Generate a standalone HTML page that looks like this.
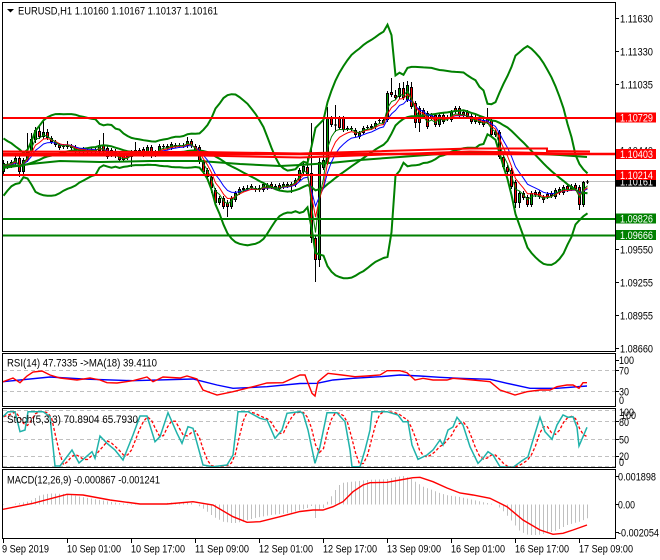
<!DOCTYPE html>
<html><head><meta charset="utf-8">
<style>
html,body{margin:0;padding:0;background:#fff;}
svg{display:block;}
text{font-family:"Liberation Sans",sans-serif;font-size:11px;fill:#000;}
.w{fill:#fff;}
</style></head>
<body>
<svg id="s" width="660" height="560" xmlns="http://www.w3.org/2000/svg">
<defs>
<clipPath id="cm"><rect x="3" y="3" width="612" height="348"/></clipPath>
<clipPath id="cr"><rect x="3" y="354" width="612" height="52"/></clipPath>
<clipPath id="cs"><rect x="3" y="409" width="612" height="58"/></clipPath>
<clipPath id="cd"><rect x="3" y="470" width="612" height="68"/></clipPath>
</defs>
<rect width="660" height="560" fill="#fff"/>

<!-- main panel -->
<g clip-path="url(#cm)">
  <line x1="3" y1="181.5" x2="615" y2="181.5" stroke="#c0c0c0" stroke-width="1"/>
  <g id="cand"></g>
  <polyline fill="none" stroke="#008000" stroke-width="2" points="3,168 30,164 60,161 100,162 150,161 200,161 240,164 280,166 300,165 330,163 360,160 400,157 440,154 470,152 520,153 560,155 587,157"/>
  <g id="ind"></g>
  <line x1="3" y1="118" x2="615" y2="118" stroke="#ff0000" stroke-width="2"/>
  <line x1="3" y1="175" x2="615" y2="175" stroke="#ff0000" stroke-width="2"/>
  <line x1="3" y1="154" x2="615" y2="154" stroke="#ff0000" stroke-width="2.5"/>
  <polyline fill="none" stroke="#ff0000" stroke-width="2" points="3,151.5 200,152 300,153.5 470,148.5 547,148.5 547,151 590,151.5"/>
  <polyline fill="none" stroke="#ff0000" stroke-width="2" points="3,155.5 200,155.5 300,157.5 470,151.5 545,153 590,154"/>
  <line x1="3" y1="219" x2="615" y2="219" stroke="#008000" stroke-width="2"/>
  <line x1="3" y1="235.5" x2="615" y2="235.5" stroke="#008000" stroke-width="2"/>
</g>

<!-- RSI panel -->
<g clip-path="url(#cr)">
  <line x1="3" y1="370.5" x2="615" y2="370.5" stroke="#c0c0c0" stroke-dasharray="4,3"/>
  <line x1="3" y1="391.5" x2="615" y2="391.5" stroke="#c0c0c0" stroke-dasharray="4,3"/>
  <polyline id="rsiB" fill="none" stroke="#0000ff" stroke-width="1.4" points="3,381.7 50,377 83,379 133,380.7 193,379 217,385 233,388.3 267,386.7 300,383.5 317,383.3 333,380 353,378.3 380,376.7 400,375 420,376 440,377.3 460,378.3 490,379.3 507,383.3 530,388.3 557,388.3 587,386"/>
  <polyline fill="none" stroke="#ff0000" stroke-width="1.4" points="3,381.7 13,378 20,382.7 27,376 33,372 42,371 50,375 60,378 77,380 90,378 100,380 107,382.7 117,383 133,380.7 147,377 153,381.7 163,377 180,378 187,376 197,379 203,390 217,395 233,391.7 253,386.7 267,383 283,382.7 300,375 305,375 308,383 312,393.3 315,396 318,381.7 322,378.3 328,373.3 342,375 355,376.7 367,376 380,375 387,370.7 400,370.7 407,372.7 415,380 423,378.3 433,380 447,380 453,378.3 473,380 490,381.7 500,390 515,395 527,391.7 540,390 550,390 557,386.7 567,385 573,385 579,388.3 583,382.7 587,382.7"/>
</g>

<!-- Stoch panel -->
<g clip-path="url(#cs)">
  <line x1="3" y1="410.5" x2="615" y2="410.5" stroke="#c0c0c0" stroke-dasharray="4,3"/>
  <line x1="3" y1="421.5" x2="615" y2="421.5" stroke="#c0c0c0" stroke-dasharray="4,3"/>
  <line x1="3" y1="439.5" x2="615" y2="439.5" stroke="#c0c0c0" stroke-dasharray="4,3"/>
  <line x1="3" y1="456.5" x2="615" y2="456.5" stroke="#c0c0c0" stroke-dasharray="4,3"/>
  <line x1="3" y1="466.5" x2="615" y2="466.5" stroke="#c0c0c0" stroke-dasharray="4,3"/>
  <g id="stoch"></g>
</g>

<!-- MACD panel -->
<g clip-path="url(#cd)">
  <g id="hist"></g>
  <polyline fill="none" stroke="#ff0000" stroke-width="1.4" points="3,509.3 33,503.3 67,494.3 83,495 110,500 140,504 167,504 193,501.7 213,505 233,516.7 247,522.3 260,521.7 280,516.7 300,511.5 313,510 323,510 333,506.7 343,501.7 353,491.7 363,485 370,482.7 387,482.3 400,480 413,477.7 420,477.3 433,481.7 447,488 460,493 473,495 490,498.3 507,506.7 523,520 540,530 553,534.3 563,533.3 573,530 587,525"/>
</g>

<!-- panel borders -->
<rect x="2.5" y="2.5" width="613" height="349" fill="none" stroke="#000"/>
<rect x="2.5" y="353.5" width="613" height="53" fill="none" stroke="#000"/>
<rect x="2.5" y="408.5" width="613" height="59" fill="none" stroke="#000"/>
<rect x="2.5" y="469.5" width="613" height="69" fill="none" stroke="#000"/>

<!-- header texts -->
<polygon points="7,9 14,9 10.5,12.5" fill="#000"/>
<text x="18" y="14.5" textLength="200" lengthAdjust="spacingAndGlyphs">EURUSD,H1  1.10160 1.10167 1.10137 1.10161</text>
<text x="7" y="366.5" textLength="150" lengthAdjust="spacingAndGlyphs">RSI(14) 47.7335  -&gt;MA(18) 39.4110</text>
<text x="7" y="423" textLength="131" lengthAdjust="spacingAndGlyphs">Stoch(5,3,3) 70.8904 65.7930</text>
<text x="7" y="483.5" textLength="153" lengthAdjust="spacingAndGlyphs">MACD(12,26,9) -0.000867 -0.001241</text>

<!-- price axis -->
<g stroke="#000">
  <line x1="615" y1="18.5" x2="619" y2="18.5"/>
  <line x1="615" y1="51.5" x2="619" y2="51.5"/>
  <line x1="615" y1="84.5" x2="619" y2="84.5"/>
  <line x1="615" y1="249.5" x2="619" y2="249.5"/>
  <line x1="615" y1="282.5" x2="619" y2="282.5"/>
  <line x1="615" y1="315.5" x2="619" y2="315.5"/>
  <line x1="615" y1="348.5" x2="619" y2="348.5"/>
  <line x1="615" y1="360.5" x2="619" y2="360.5"/>
  <line x1="615" y1="370.5" x2="619" y2="370.5"/>
  <line x1="615" y1="391.5" x2="619" y2="391.5"/>
  <line x1="615" y1="421.5" x2="619" y2="421.5"/>
  <line x1="615" y1="439.5" x2="619" y2="439.5"/>
  <line x1="615" y1="456.5" x2="619" y2="456.5"/>
  <line x1="615" y1="476.5" x2="619" y2="476.5"/>
  <line x1="615" y1="504.5" x2="619" y2="504.5"/>
  <line x1="615" y1="532.5" x2="619" y2="532.5"/>
</g>
<text x="620" y="22.5" textLength="33" lengthAdjust="spacingAndGlyphs">1.11630</text>
<text x="620" y="55.5" textLength="33" lengthAdjust="spacingAndGlyphs">1.11330</text>
<text x="620" y="88.5" textLength="33" lengthAdjust="spacingAndGlyphs">1.11035</text>
<text x="620" y="154.5" textLength="33" lengthAdjust="spacingAndGlyphs">1.10440</text>
<text x="620" y="253.5" textLength="33" lengthAdjust="spacingAndGlyphs">1.09550</text>
<text x="620" y="286.5" textLength="33" lengthAdjust="spacingAndGlyphs">1.09255</text>
<text x="620" y="319.5" textLength="33" lengthAdjust="spacingAndGlyphs">1.08955</text>
<text x="620" y="352.5" textLength="33" lengthAdjust="spacingAndGlyphs">1.08660</text>

<rect x="616" y="112.5" width="40" height="10" fill="#ff0000"/>
<text class="w" x="620" y="121.5" textLength="33" lengthAdjust="spacingAndGlyphs">1.10729</text>
<rect x="616" y="149" width="40" height="10" fill="#ff0000"/>
<text class="w" x="620" y="158" textLength="33" lengthAdjust="spacingAndGlyphs">1.10403</text>
<rect x="616" y="176.7" width="40" height="10" fill="#000"/>
<text class="w" x="620" y="185.7" textLength="33" lengthAdjust="spacingAndGlyphs">1.10161</text>
<rect x="616" y="170" width="40" height="10" fill="#ff0000"/>
<text class="w" x="620" y="179" textLength="33" lengthAdjust="spacingAndGlyphs">1.10214</text>
<rect x="616" y="213.5" width="40" height="10" fill="#008000"/>
<text class="w" x="620" y="222.5" textLength="33" lengthAdjust="spacingAndGlyphs">1.09826</text>
<rect x="616" y="230" width="40" height="10" fill="#008000"/>
<text class="w" x="620" y="239" textLength="33" lengthAdjust="spacingAndGlyphs">1.09666</text>

<!-- indicator axes -->
<text x="619" y="364" textLength="15" lengthAdjust="spacingAndGlyphs">100</text>
<text x="619" y="374.5" textLength="10" lengthAdjust="spacingAndGlyphs">70</text>
<text x="619" y="395.5" textLength="10" lengthAdjust="spacingAndGlyphs">30</text>
<text x="619" y="404" textLength="5" lengthAdjust="spacingAndGlyphs">0</text>
<text x="619" y="416" textLength="15" lengthAdjust="spacingAndGlyphs">100</text>
<text x="621" y="419" textLength="15" lengthAdjust="spacingAndGlyphs">100</text>
<text x="619" y="426" textLength="10" lengthAdjust="spacingAndGlyphs">80</text>
<text x="619" y="443.5" textLength="10" lengthAdjust="spacingAndGlyphs">50</text>
<text x="619" y="460" textLength="10" lengthAdjust="spacingAndGlyphs">20</text>
<text x="619" y="466" textLength="5" lengthAdjust="spacingAndGlyphs">0</text>
<text x="618" y="480.5" textLength="38" lengthAdjust="spacingAndGlyphs">0.001898</text>
<text x="618" y="508.5" textLength="17" lengthAdjust="spacingAndGlyphs">0.00</text>
<text x="618" y="536.5" textLength="41" lengthAdjust="spacingAndGlyphs">-0.002054</text>

<!-- time axis -->
<g stroke="#000">
  <line x1="3.5" y1="539" x2="3.5" y2="543"/>
  <line x1="67.5" y1="539" x2="67.5" y2="543"/>
  <line x1="131.5" y1="539" x2="131.5" y2="543"/>
  <line x1="195.5" y1="539" x2="195.5" y2="543"/>
  <line x1="259.5" y1="539" x2="259.5" y2="543"/>
  <line x1="323.5" y1="539" x2="323.5" y2="543"/>
  <line x1="387.5" y1="539" x2="387.5" y2="543"/>
  <line x1="451.5" y1="539" x2="451.5" y2="543"/>
  <line x1="515.5" y1="539" x2="515.5" y2="543"/>
  <line x1="579.5" y1="539" x2="579.5" y2="543"/>
</g>
<text x="2" y="552.5" textLength="47" lengthAdjust="spacingAndGlyphs">9 Sep 2019</text>
<text x="67" y="552.5" textLength="54" lengthAdjust="spacingAndGlyphs">10 Sep 01:00</text>
<text x="131" y="552.5" textLength="54" lengthAdjust="spacingAndGlyphs">10 Sep 17:00</text>
<text x="195" y="552.5" textLength="54" lengthAdjust="spacingAndGlyphs">11 Sep 09:00</text>
<text x="259" y="552.5" textLength="54" lengthAdjust="spacingAndGlyphs">12 Sep 01:00</text>
<text x="323" y="552.5" textLength="54" lengthAdjust="spacingAndGlyphs">12 Sep 17:00</text>
<text x="387" y="552.5" textLength="54" lengthAdjust="spacingAndGlyphs">13 Sep 09:00</text>
<text x="451" y="552.5" textLength="54" lengthAdjust="spacingAndGlyphs">16 Sep 01:00</text>
<text x="515" y="552.5" textLength="54" lengthAdjust="spacingAndGlyphs">16 Sep 17:00</text>
<text x="579" y="552.5" textLength="54" lengthAdjust="spacingAndGlyphs">17 Sep 09:00</text>
</svg>

<script>
(function(){
const NS="http://www.w3.org/2000/svg";
function el(p,t,a){const e=document.createElementNS(NS,t);for(const k in a)e.setAttribute(k,a[k]);p.appendChild(e);return e;}
function G(id){return document.getElementById(id);}
const X=i=>3+4*i;
// [open, close, top(high), bottom(low)] in pixel y
const C=[
[172,163,160,175],[166,164,161,169],[165,162,160,168],[163,158,155,166],[158,172,156,177],
[172,160,158,175],[160,152,133,162],[152,139,133,154],[140,130,127,143],[131,137,125,139],
[137,132,120,139],[132,138,129,140],[138,142,136,144],[142,145,140,147],[145,148,143,150],
[146,147,144,149],[147,145,141,149],[146,148,144,150],[147,152,145,154],[150,152,148,154],
[151,150,147,153],[150,152,148,154],[151,150,148,153],[150,151,148,154],[151,145,140,153],
[145,151,133,153],[148,157,146,159],[150,155,148,157],[151,156,149,158],[155,160,152,162],
[155,160,153,162],[156,158,153,160],[157,152,150,167],[152,150,142,153],[150,154,148,156],
[149,155,147,157],[152,147,145,154],[147,156,145,158],[152,155,150,157],[152,146,144,154],
[147,146,144,149],[146,148,144,150],[148,144,142,150],[145,146,143,148],[146,145,143,148],
[145,146,143,148],[146,141,137,148],[141,146,139,148],[146,153,144,155],[147,162,145,164],
[162,172,160,174],[170,177,168,179],[177,188,175,193],[190,203,188,205],[203,198,196,205],
[198,207,196,209],[203,207,200,217],[207,198,196,209],[200,193,191,202],[193,189,187,195],
[190,188,186,192],[189,188,185,191],[188,186,184,190],[188,190,186,192],[188,190,185,192],
[190,184,182,192],[185,188,183,190],[184,187,182,189],[186,188,184,190],[185,189,183,191],
[187,184,182,189],[184,186,182,188],[185,184,182,193],[185,180,178,187],[180,170,168,182],
[172,166,163,174],[167,174,157,176],[173,238,123,243],[238,260,236,282],[260,162,158,267],
[168,160,120,170],[163,118,107,165],[118,125,116,127],[125,125,105,132],[118,128,116,130],
[118,130,116,132],[128,129,126,131],[128,129,126,131],[130,135,128,137],[137,133,131,139],
[133,128,126,135],[127,128,125,130],[126,128,124,130],[127,123,121,129],[120,121,118,123],
[120,123,118,125],[120,93,91,122],[92,95,78,97],[95,98,90,100],[97,88,83,99],
[88,98,82,100],[100,85,81,102],[87,107,82,109],[103,123,101,128],[108,123,106,132],
[110,117,108,119],[113,127,111,129],[115,118,113,120],[115,125,113,127],[125,115,113,127],
[115,122,113,124],[117,119,115,121],[120,112,110,122],[108,112,106,114],[108,115,106,117],
[112,115,110,117],[112,117,110,119],[116,122,114,124],[117,122,115,124],[118,123,116,125],
[120,125,117,127],[118,122,108,124],[120,135,118,137],[132,135,130,137],[132,157,130,159],
[157,167,155,169],[167,172,165,174],[170,187,168,189],[182,203,180,208],[203,193,191,208],
[193,198,191,200],[197,205,195,207],[205,193,191,207],[192,195,190,197],[192,197,190,199],
[197,200,195,203],[194,197,192,199],[193,196,191,198],[197,190,188,199],[193,189,187,195],
[193,187,185,195],[186,190,184,192],[186,189,184,191],[185,189,183,191],[187,205,185,210],
[205,182,181,207],[182,182,180,184]
];
const pre=[150,188,184,148,152,184,170,165,160,168,172,165,160,163,168,170,166,162,165,168];
const cl=pre.concat(C.map(d=>d[1]));
const P=pre.length,N=C.length;

// candles
const gc=G('cand');
C.forEach((d,i)=>{
  const x=X(i);const o=d[0],c=d[1],t=d[2],b=d[3];
  el(gc,'line',{x1:x+.5,y1:t,x2:x+.5,y2:b,stroke:'#000','stroke-width':1});
  const top=Math.min(o,c),bot=Math.max(o,c);
  if(bot-top<1){el(gc,'rect',{x:x-1,y:top-.5,width:3,height:1,fill:'#000'});}
  else{
    el(gc,'rect',{x:x-1,y:top,width:3,height:bot-top,fill:'#000'});
    if(bot-top>2)el(gc,'rect',{x:x,y:top+1,width:1,height:bot-top-2,fill:(c<o)?'#00a000':'#ff0000'});
  }
});

// bollinger bands (20,3)
const up=[],lo=[],mid=[];
for(let i=0;i<N;i++){const j=P+i;let s=0;for(let k=j-19;k<=j;k++)s+=cl[k];const m=s/20;let v=0;for(let k=j-19;k<=j;k++)v+=(cl[k]-m)*(cl[k]-m);const sd=Math.sqrt(v/20);mid.push(m);up.push(m-3*sd);lo.push(m+3*sd);}
function ema(n){const a=2/(n+1);let e=cl[0];const r=[];for(let j=0;j<cl.length;j++){e+=a*(cl[j]-e);if(j>=P)r.push(e);}return r;}
function pl(arr){return arr.map((y,i)=>(X(i)+.5)+','+y.toFixed(1)).join(' ');}
const gi=G('ind');
[[up,'#008000',2],[lo,'#008000',2],[mid,'#008000',2],[ema(8),'#0000ff',1],[ema(5),'#ff0000',1],[ema(3),'#008000',1]].forEach(s=>{
  el(gi,'polyline',{points:pl(s[0]),fill:'none',stroke:s[1],'stroke-width':s[2]});
});

function interp(pts,x){if(x<=pts[0][0])return pts[0][1];for(let k=1;k<pts.length;k++){if(x<=pts[k][0]){const x0=pts[k-1][0],y0=pts[k-1][1],x1=pts[k][0],y1=pts[k][1];return y0+(y1-y0)*(x-x0)/(x1-x0);}}return pts[pts.length-1][1];}

// stochastic
const K=[[3,416.7],[8,411.7],[15,411.7],[20,431.7],[25,430],[28,411.7],[43,411.7],[50,416.7],[55,466],[60,466],[72,450],[79,463],[92,451.7],[95,458.3],[100,436],[107,443.3],[115,450],[123,460],[133,435],[140,416],[147,416],[155,441.7],[160,436.7],[168,412.7],[177,433.3],[182,443.3],[188,426.7],[193,428.3],[203,465],[213,466.7],[227,465],[233,455],[238,411.7],[248,411.7],[260,418.3],[267,420],[275,438.3],[282,430],[287,413.3],[300,411.7],[303,413.3],[308,430],[315,463.3],[320,446.7],[327,412.7],[337,412.7],[345,421.7],[350,450],[352,466.7],[360,466.7],[365,450],[370,430],[372,411.7],[387,411.7],[398,415],[403,421.7],[408,421.7],[412,445],[418,459.3],[427,455],[433,450],[440,440],[443,445],[448,430],[453,427],[457,417.3],[463,425],[470,446.7],[478,463.3],[483,458.3],[488,451.7],[493,455],[500,466.7],[513,467.3],[522,460.7],[528,456.7],[533,440],[540,417.3],[545,431.7],[552,439.3],[557,425],[563,415],[568,417.3],[573,416.7],[577,427.3],[579,446],[583,436.7],[587,427.3]];
const ks=[];for(let i=0;i<N;i++)ks.push(interp(K,X(i)));
const sg=[];for(let i=0;i<N;i++){const a=ks[Math.max(0,i-2)],b=ks[Math.max(0,i-1)],c=ks[i];sg.push((a+b+c)/3);}
const gs=G('stoch');
el(gs,'polyline',{points:pl(sg),fill:'none',stroke:'#ff0000','stroke-width':1.3,'stroke-dasharray':'3,2'});
el(gs,'polyline',{points:K.map(p=>p[0]+','+p[1]).join(' '),fill:'none',stroke:'#20b2aa','stroke-width':1.5});

// MACD histogram
const H=[[3,505],[20,503],[30,501],[40,495],[50,493.5],[67,494],[80,496.7],[100,500],[117,503],[130,504],[160,504],[170,502.5],[190,502.5],[197,505],[205,510],[213,516.7],[223,521.7],[233,523.3],[243,521.7],[253,518.3],[270,515],[290,513],[300,510],[307,508],[311,506],[315,518],[319,510],[323,508],[327,501.7],[332,495],[335,490],[339,485],[343,482.7],[367,480],[387,479],[397,476.7],[403,476],[410,478.3],[415,481.7],[423,486.7],[432,490],[440,493.3],[448,495.5],[460,497],[482,502],[495,504.5],[500,508.3],[505,513.3],[512,521.7],[520,531.7],[528,535],[537,535],[547,533.3],[557,530],[567,525],[573,523.3],[580,521.5],[587,518.3]];
const gh=G('hist');
for(let i=0;i<N;i++){const x=X(i)+.5;const y=interp(H,X(i));if(Math.abs(y-504.5)>=0.5)el(gh,'line',{x1:x,y1:504.5,x2:x,y2:y.toFixed(1),stroke:'#c0c0c0','stroke-width':1});}
})();
</script>
</body></html>
